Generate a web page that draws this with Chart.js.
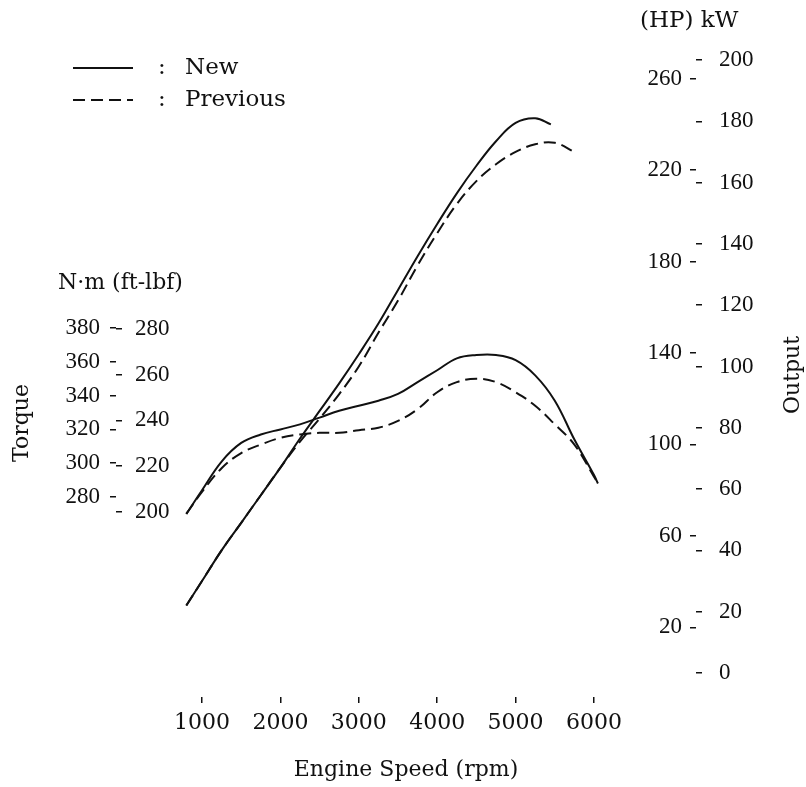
<!DOCTYPE html>
<html>
<head>
<meta charset="utf-8">
<title>Engine Output and Torque</title>
<script src="https://cdn.jsdelivr.net/npm/chart.js@4.4.1/dist/chart.umd.min.js"></script>
<style>
  html, body { margin: 0; padding: 0; background: #fff; }
  canvas { display: block; }
</style>
</head>
<body>
<canvas id="engine-chart" width="806" height="787"></canvas>
<script>
// Values (torque in N·m, output in kW)
const rpmTorque = [800, 1000, 1250, 1500, 1750, 2000, 2250, 2500, 2750, 3000, 3250, 3500,
    3750, 4000, 4250, 4500, 4750, 5000, 5250, 5500, 5750, 6000, 6050];
const torqueNew = [270, 284, 301, 312, 317, 320, 323, 327, 331, 334, 337, 341,
    348, 355, 362, 364, 364, 361, 352, 337, 314, 293, 288];
const torquePrev = [270, 283, 297, 306, 311, 315, 317, 318, 318, 319.5, 321, 325,
    332, 342, 348, 350, 348, 342, 334, 323, 311, 292, 288];

const rpmPowerNew = [800, 1000, 1250, 1500, 1750, 2000, 2250, 2500, 2750, 3000, 3250, 3500,
    3750, 4000, 4250, 4500, 4750, 5000, 5250, 5450];
const powerNew = [22, 30, 40, 49, 58, 67, 76.5, 85.5, 94.5, 104, 114, 125,
    136, 146.5, 156.5, 165.5, 173.5, 179.5, 181, 179];

const rpmPowerPrev = [800, 1000, 1250, 1500, 1750, 2000, 2250, 2500, 2750, 3000, 3250, 3500,
    3750, 4000, 4250, 4500, 4750, 5000, 5250, 5500, 5750];
const powerPrev = [22, 30, 40, 49, 58, 67, 75.5, 83, 91, 100, 111, 121.5,
    133, 143.5, 153, 160.5, 166, 170, 172.5, 173, 170];

// Tick labels
const rpmTicks = [1000, 2000, 3000, 4000, 5000, 6000];
const nmTicks = [280, 300, 320, 340, 360, 380];
const lbftTicks = [200, 220, 240, 260, 280];
const kwTicks = [0, 20, 40, 60, 80, 100, 120, 140, 160, 180, 200];
const hpTicks = [20, 60, 100, 140, 180, 220, 260];

const seriesNames = ['New', 'Previous'];

const NM_PER_LBFT = 1.3558;
const KW_PER_HP = 0.7457;

// scale ranges (the torque block sits in the middle of the sheet)
const rpmRange = [-20.4, 7224.5];
const nmRange = [161.66, 550.42];
const kwRange = [-7.83, 206.53];

const serif = 'DejaVu Serif';
const tickFont = { family: 'Liberation Serif', size: 23 };
const ink = '#111';
const prevDash = [12, 6];

const pairs = (xs, ys) => xs.map((x, i) => ({ x: x, y: ys[i] }));
const fixedTicks = list => scale => { scale.ticks = list.map(v => ({ value: v })); };

function yAxis(position, range, list, width, weight, mirror, padding) {
    return {
        type: 'linear',
        position: position,
        weight: weight,
        min: range[0],
        max: range[1],
        afterBuildTicks: fixedTicks(list),
        afterFit: scale => { scale.width = width; },
        border: { display: false },
        grid: { drawOnChartArea: false, tickLength: 6, tickColor: ink, lineWidth: 1.5 },
        ticks: {
            autoSkip: false, mirror: mirror, padding: padding,
            color: ink, font: tickFont, callback: v => String(v)
        }
    };
}

// plain texts and the key that sit outside the axes on the sheet
const sheetText = {
    id: 'sheetText',
    afterDraw(chart) {
        const ctx = chart.ctx;
        ctx.save();
        ctx.fillStyle = ink;
        ctx.strokeStyle = ink;
        ctx.textBaseline = 'middle';
        ctx.font = '22px "' + serif + '"';

        ctx.textAlign = 'left';
        ctx.fillText('N·m (ft-lbf)', 58, 283);
        ctx.font = '23px "' + serif + '"';
        ctx.fillText('(HP) kW', 640, 21);

        ctx.font = '22px "' + serif + '"';
        ctx.textAlign = 'center';
        ctx.save();
        ctx.translate(22, 423);
        ctx.rotate(-Math.PI / 2);
        ctx.fillText('Torque', 0, 0);
        ctx.restore();
        ctx.save();
        ctx.translate(793, 375);
        ctx.rotate(-Math.PI / 2);
        ctx.fillText('Output', 0, 0);
        ctx.restore();

        // key: line sample, colon, name
        seriesNames.forEach((name, i) => {
            const ds = chart.data.datasets[i];
            const y = 68 + i * 32;
            ctx.lineWidth = ds.borderWidth;
            ctx.setLineDash(ds.borderDash || []);
            ctx.beginPath();
            ctx.moveTo(73, y);
            ctx.lineTo(133, y);
            ctx.stroke();
            ctx.setLineDash([]);
            ctx.textAlign = 'left';
            ctx.font = '23px "' + serif + '"';
            ctx.fillText(':', 158, y);
            ctx.fillText(name, 185, y);
        });
        ctx.restore();
    }
};

const lineStyle = {
    borderColor: ink,
    borderWidth: 2,
    pointRadius: 0,
    tension: 0.4,
    fill: false
};

const engineChart = new Chart(document.getElementById('engine-chart'), {
    type: 'line',
    data: {
        datasets: [
            Object.assign({ label: 'Torque New', data: pairs(rpmTorque, torqueNew), yAxisID: 'nm' }, lineStyle),
            Object.assign({ label: 'Torque Previous', data: pairs(rpmTorque, torquePrev), yAxisID: 'nm', borderDash: prevDash }, lineStyle),
            Object.assign({ label: 'Output New', data: pairs(rpmPowerNew, powerNew), yAxisID: 'kw' }, lineStyle),
            Object.assign({ label: 'Output Previous', data: pairs(rpmPowerPrev, powerPrev), yAxisID: 'kw', borderDash: prevDash }, lineStyle)
        ]
    },
    options: {
        responsive: false,
        animation: false,
        layout: { autoPadding: false, padding: { left: 56, right: 0, top: 40, bottom: 0 } },
        plugins: {
            legend: { display: false },
            tooltip: { enabled: false }
        },
        scales: {
            x: {
                type: 'linear',
                min: rpmRange[0],
                max: rpmRange[1],
                afterBuildTicks: fixedTicks(rpmTicks),
                afterFit: scale => { scale.height = 90; },
                border: { display: false },
                grid: { drawOnChartArea: false, tickLength: 6, tickColor: ink, lineWidth: 1.5 },
                ticks: {
                    autoSkip: false, maxRotation: 0, padding: 7, color: ink,
                    font: { family: serif, size: 22 }, callback: v => String(v)
                },
                title: {
                    display: true, text: 'Engine Speed (rpm)', color: ink,
                    font: { family: serif, size: 22 }, padding: { top: 0, bottom: 4 }
                }
            },
            nm: yAxis('left', nmRange, nmTicks, 60, 2, false, 10),
            lbft: yAxis('left', [nmRange[0] / NM_PER_LBFT, nmRange[1] / NM_PER_LBFT], lbftTicks, 6, 1, true, 13),
            // mirrored right axis: labels sit left of the tick marks
            hp: yAxis('right', [kwRange[0] / KW_PER_HP, kwRange[1] / KW_PER_HP], hpTicks, 6, 1, true, -8),
            kw: yAxis('right', kwRange, kwTicks, 110, 2, false, 17)
        }
    },
    plugins: [sheetText]
});
</script>
</body>
</html>
